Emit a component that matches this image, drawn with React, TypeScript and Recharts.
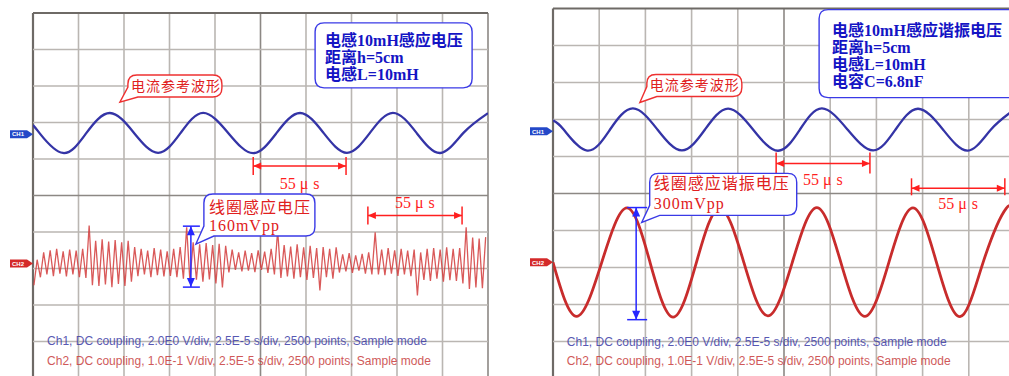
import React from "react";
import {
  LineChart,
  Line,
  XAxis,
  YAxis,
  ReferenceLine,
  ReferenceDot,
} from "recharts";

// scope screen: 10 x 10 divisions, 0 at the centre line
const X_TICKS = [0, 1, 2, 3, 4, 5, 6, 7, 8, 9, 10];
const Y_TICKS = [-5, -4, -3, -2, -1, 0, 1, 2, 3, 4, 5];

// channel ground markers (divisions) and scales
const CH1_POS = 1.68;
const CH2_POS = -1.86;
const CH1_V_PER_DIV = 2;
const CH2_MV_PER_DIV = 100;

// left capture, CH1 reference current (V)
const leftCh1Time = [0, 0.14, 0.66, 1.175, 1.69, 2.22, 2.75, 3.245, 3.74, 4.29, 4.84, 5.355, 5.87, 6.385, 6.9, 7.405, 7.91, 8.43, 8.95, 9.46, 10];
const leftCh1Volt = [0.5, 0.07, -1.03, 0.07, 1.16, 0.07, -1.02, 0.07, 1.17, 0.07, -1.04, 0.07, 1.16, 0.07, -1.02, 0.07, 1.17, 0.07, -1.03, 0.07, 1.15];

// left capture, CH2 coil voltage (mV), trough/peak of every cycle
const LEFT_CH2_T0 = 0.02;
const LEFT_CH2_STEP = 10 / 140;
const leftCh2mV = [
  -60, 10, -38, 30, -30, 36, -35, 40, -28, 33, -36, 38, -30, 35, -38, 40, -40, 104, -60, 62,
  -62, 66, -58, 60, -65, 64, -56, 58, -62, 62, -50, 45, -35, 40, -30, 35, -38, 42, -32, 38,
  -36, 33, -34, 40, -38, 45, -42, 99, -48, 58, -45, 52, -50, 56, -44, 50, -55, 54, -66, 48,
  -25, 38, -18, 30, -22, 35, -20, 28, -24, 36, -18, 32, -26, 40, -30, 90, -40, 50, -36, 46,
  -42, 52, -38, 44, -45, 48, -40, 42, -74, 45, -38, 40, -42, 44, -25, 25, -22, 28, -26, 22,
  -20, 26, -28, 30, -30, 85, -30, 38, -32, 42, -28, 36, -34, 40, -30, 35, -35, 38, -88, 30,
  -45, 40, -48, 42, -42, 38, -50, 44, -46, 40, -48, 42, -55, 99, -70, 71, -66, 68, -68, 72,
];

// right capture, CH1 reference current (V)
const rightCh1Time = [0, 0.23, 0.74, 1.235, 1.73, 2.26, 2.79, 3.29, 3.79, 4.33, 4.87, 5.345, 5.82, 6.375, 6.93, 7.415, 7.9, 8.44, 8.98, 9.48, 10];
const rightCh1Volt = [0.59, 0.1, -1.04, 0.1, 1.24, 0.1, -1.03, 0.1, 1.23, 0.1, -1.05, 0.1, 1.24, 0.1, -1.03, 0.1, 1.22, 0.1, -1.04, 0.1, 1.2];

// right capture, CH2 resonant coil voltage (mV)
const rightCh2Time = [0, 0.51, 1.055, 1.6, 2.1, 2.6, 3.105, 3.61, 4.13, 4.65, 5.18, 5.71, 6.23, 6.75, 7.27, 7.79, 8.3, 8.81, 9.31, 9.81, 10];
const rightCh2mV = [0, -146, 0, 147, 0, -148, 0, 146, 0, -145, 0, 148, 0, -146, 0, 147, 0, -147, 0, 146, 125];

const toRows = (t: number[], v: number[], pos: number, perDiv: number) =>
  t.map((x, i) => ({ t: x, y: pos + v[i] / perDiv }));

const leftCh1 = toRows(leftCh1Time, leftCh1Volt, CH1_POS, CH1_V_PER_DIV);
const leftCh2 = toRows(
  leftCh2mV.map((_, i) => LEFT_CH2_T0 + i * LEFT_CH2_STEP),
  leftCh2mV,
  CH2_POS,
  CH2_MV_PER_DIV
);
const rightCh1 = toRows(rightCh1Time, rightCh1Volt, CH1_POS, CH1_V_PER_DIV);
const rightCh2 = toRows(rightCh2Time, rightCh2mV, CH2_POS, CH2_MV_PER_DIV);

const SERIF = "'Liberation Serif', 'Noto Sans CJK SC', serif";
const SANS = "'Liberation Sans', Arial, sans-serif";
const BLUE = "#3434a6";
const RED = "#d23c3c";
const MARK_RED = "#ff1f1f";
const MARK_BLUE = "#2626ff";

type TextLine = { text: string; dx: number; dy: number; size: number; color: string; bold?: boolean };

const Bubble = (p: any) => {
  const { cx = 0, cy = 0, dx, dy, w, h, stroke, tail, lines } = p;
  const x = cx + dx;
  const y = cy + dy;
  const r = 9;
  const d = tail
    ? `M${x + r},${y} H${x + w - r} Q${x + w},${y} ${x + w},${y + r} V${y + h - r} Q${x + w},${y + h} ${x + w - r},${y + h} H${x + 10} L${cx},${cy} L${x},${y + h - 10} V${y + r} Q${x},${y} ${x + r},${y} Z`
    : `M${x + r},${y} H${x + w - r} Q${x + w},${y} ${x + w},${y + r} V${y + h - r} Q${x + w},${y + h} ${x + w - r},${y + h} H${x + r} Q${x},${y + h} ${x},${y + h - r} V${y + r} Q${x},${y} ${x + r},${y} Z`;
  return (
    <g>
      <path d={d} fill="#fff" stroke={stroke} strokeWidth={1.4} />
      {(lines as TextLine[]).map((l, i) => (
        <text
          key={i}
          x={x + l.dx}
          y={y + l.dy}
          fill={l.color}
          fontSize={l.size}
          fontWeight={l.bold ? 700 : 400}
          fontFamily={SERIF}
          letterSpacing={l.bold ? 0 : 1}
        >
          {l.text}
        </text>
      ))}
    </g>
  );
};

const HSpan = (p: any) => {
  const { x1, x2, y1, up, down, labelDy } = p;
  const a = 8;
  const hw = 3.5;
  return (
    <g stroke={MARK_RED} strokeWidth={1.5}>
      <line x1={x1} x2={x2} y1={y1} y2={y1} />
      <line x1={x1} x2={x1} y1={y1 - up} y2={y1 + down} />
      <line x1={x2} x2={x2} y1={y1 - up} y2={y1 + down} />
      <polygon points={`${x1},${y1} ${x1 + a},${y1 - hw} ${x1 + a},${y1 + hw}`} fill={MARK_RED} stroke="none" />
      <polygon points={`${x2},${y1} ${x2 - a},${y1 - hw} ${x2 - a},${y1 + hw}`} fill={MARK_RED} stroke="none" />
      <text
        x={(x1 + x2) / 2 - 20}
        y={y1 + labelDy}
        fill={MARK_RED}
        stroke="none"
        fontSize={16}
        fontFamily={SERIF}
      >
        55<tspan dx={4}>μ</tspan>
        <tspan dx={5}>s</tspan>
      </text>
    </g>
  );
};

const VSpan = (p: any) => {
  const { x1, y1, y2, capL, capR } = p;
  const top = Math.min(y1, y2);
  const bot = Math.max(y1, y2);
  const a = 9;
  const hw = 4;
  return (
    <g stroke={MARK_BLUE} strokeWidth={1.5}>
      <line x1={x1} x2={x1} y1={top} y2={bot} />
      <line x1={x1 - capL} x2={x1 + capR} y1={top} y2={top} />
      <line x1={x1 - capL} x2={x1 + capR} y1={bot} y2={bot} />
      <polygon points={`${x1},${top} ${x1 - hw},${top + a} ${x1 + hw},${top + a}`} fill={MARK_BLUE} stroke="none" />
      <polygon points={`${x1},${bot} ${x1 - hw},${bot - a} ${x1 + hw},${bot - a}`} fill={MARK_BLUE} stroke="none" />
    </g>
  );
};

const ChTag = (p: any) => {
  const { cx = 0, cy = 0, label, color } = p;
  return (
    <g>
      <path
        d={`M${cx - 23},${cy - 4} H${cx - 6} L${cx},${cy} L${cx - 6},${cy + 4} H${cx - 23} Z`}
        fill={color}
      />
      <text x={cx - 15} y={cy + 2.2} textAnchor="middle" fill="#fff" fontSize={6} fontWeight={700} fontFamily={SANS}>
        {label}
      </text>
    </g>
  );
};

const Caption = (p: any) => {
  const { cx = 0, cy = 0, text, color } = p;
  return (
    <text x={cx} y={cy + 4} fill={color} fontSize={12} fontFamily={SANS} opacity={0.85}>
      {text}
    </text>
  );
};

const CH1_CAPTION = "Ch1, DC coupling, 2.0E0 V/div, 2.5E-5 s/div, 2500 points, Sample mode";
const CH2_CAPTION = "Ch2, DC coupling, 1.0E-1 V/div, 2.5E-5 s/div, 2500 points, Sample mode";

const redCallout = (text: string) => [
  { text, dx: 3, dy: 16, size: 14, color: "#e02020" },
];

const GRID = "#bab6b2";
const CENTRE = "#8c8884";
const EDGE = "#6e6a66";

const frame = (key: string) => [
  <XAxis key={key + "x"} type="number" dataKey="t" domain={[0, 10]} ticks={X_TICKS} height={0} tick={false} tickLine={false} axisLine={false} allowDataOverflow />,
  <YAxis key={key + "y"} type="number" domain={[-5, 5]} ticks={Y_TICKS} width={0} tick={false} tickLine={false} axisLine={false} allowDataOverflow />,
  ...X_TICKS.map((v) => (
    <ReferenceLine
      key={key + "gx" + v}
      x={v}
      stroke={v === 0 ? EDGE : v === 5 || v === 10 ? CENTRE : GRID}
      strokeWidth={v === 0 ? 2.2 : 1.6}
    />
  )),
  ...Y_TICKS.map((v) => (
    <ReferenceLine
      key={key + "gy" + v}
      y={v}
      stroke={v === 5 ? EDGE : v === 0 ? CENTRE : GRID}
      strokeWidth={v === 5 ? 2.2 : 1.6}
    />
  )),
];

const LeftScope = () => (
  <LineChart width={500} height={380} margin={{ top: 13, left: 33, right: 12, bottom: 2 }}>
    {frame("l")}
    <Line data={leftCh2} dataKey="y" type="linear" stroke={RED} strokeWidth={1.3} strokeOpacity={0.85} dot={false} activeDot={false} isAnimationActive={false} />
    <Line data={leftCh1} dataKey="y" type="natural" stroke={BLUE} strokeWidth={2.3} dot={false} activeDot={false} isAnimationActive={false} />
    <ReferenceDot x={0} y={CH1_POS} r={0} shape={(p: any) => <ChTag {...p} label="CH1" color="#2448c8" />} />
    <ReferenceDot x={0} y={CH2_POS} r={0} shape={(p: any) => <ChTag {...p} label="CH2" color="#d42a2a" />} />
    <ReferenceDot
      x={6.2}
      y={4.73}
      r={0}
      shape={(p: any) => (
        <Bubble
          {...p}
          dx={0}
          dy={0}
          w={157}
          h={65}
          stroke="#3a3ae6"
          lines={[
            { text: "电感10mH感应电压", dx: 10, dy: 23, size: 16, color: "#1414c4", bold: true },
            { text: "距离h=5cm", dx: 10, dy: 40, size: 16, color: "#1414c4", bold: true },
            { text: "电感L=10mH", dx: 10, dy: 57, size: 16, color: "#1414c4", bold: true },
          ]}
        />
      )}
    />
    <ReferenceDot x={1.91} y={2.56} r={0} shape={(p: any) => <Bubble {...p} dx={8} dy={-27} w={94} h={22} stroke="#ee3030" tail lines={redCallout("电流参考波形")} />} />
    <ReferenceLine segment={[{ x: 4.84, y: 0.81 }, { x: 6.88, y: 0.81 }]} shape={(p: any) => <HSpan {...p} up={9} down={9} labelDy={23} />} />
    <ReferenceLine segment={[{ x: 7.36, y: -0.55 }, { x: 9.43, y: -0.55 }]} shape={(p: any) => <HSpan {...p} up={9} down={9} labelDy={-8} />} />
    <ReferenceLine segment={[{ x: 3.47, y: -0.84 }, { x: 3.47, y: -2.51 }]} shape={(p: any) => <VSpan {...p} capL={8} capR={9} />} />
    <ReferenceDot
      x={3.58}
      y={-1.33}
      r={0}
      shape={(p: any) => (
        <Bubble
          {...p}
          dx={8}
          dy={-50}
          w={111}
          h={42}
          stroke="#3a3ae6"
          tail
          lines={[
            { text: "线圈感应电压", dx: 5, dy: 19, size: 16, color: "#e02020" },
            { text: "160mVpp", dx: 5, dy: 37, size: 16, color: "#e02020" },
          ]}
        />
      )}
    />
    <ReferenceDot x={0.31} y={-3.99} r={0} shape={(p: any) => <Caption {...p} text={CH1_CAPTION} color="#3c3ca6" />} />
    <ReferenceDot x={0.31} y={-4.53} r={0} shape={(p: any) => <Caption {...p} text={CH2_CAPTION} color="#c83c3c" />} />
  </LineChart>
);

const RightScope = () => (
  <LineChart width={500} height={380} margin={{ top: 8.5, left: 33, right: 5, bottom: 1.5 }}>
    {frame("r")}
    <Line data={rightCh2} dataKey="y" type="natural" stroke="#c82c2c" strokeWidth={2.8} dot={false} activeDot={false} isAnimationActive={false} />
    <Line data={rightCh1} dataKey="y" type="natural" stroke={BLUE} strokeWidth={2.3} dot={false} activeDot={false} isAnimationActive={false} />
    <ReferenceDot x={0} y={CH1_POS} r={0} shape={(p: any) => <ChTag {...p} label="CH1" color="#2448c8" />} />
    <ReferenceDot x={0} y={CH2_POS} r={0} shape={(p: any) => <ChTag {...p} label="CH2" color="#d42a2a" />} />
    <ReferenceDot
      x={5.76}
      y={4.97}
      r={0}
      shape={(p: any) => (
        <Bubble
          {...p}
          dx={0}
          dy={0}
          w={200}
          h={88}
          stroke="#3a3ae6"
          lines={[
            { text: "电感10mH感应谐振电压", dx: 13, dy: 26, size: 16, color: "#1414c4", bold: true },
            { text: "距离h=5cm", dx: 13, dy: 43, size: 16, color: "#1414c4", bold: true },
            { text: "电感L=10mH", dx: 13, dy: 60, size: 16, color: "#1414c4", bold: true },
            { text: "电容C=6.8nF", dx: 13, dy: 77, size: 16, color: "#1414c4", bold: true },
          ]}
        />
      )}
    />
    <ReferenceDot x={1.88} y={2.46} r={0} shape={(p: any) => <Bubble {...p} dx={7} dy={-28} w={95} h={22} stroke="#ee3030" tail lines={redCallout("电流参考波形")} />} />
    <ReferenceLine segment={[{ x: 4.83, y: 0.81 }, { x: 6.86, y: 0.81 }]} shape={(p: any) => <HSpan {...p} up={11} down={10} labelDy={21} />} />
    <ReferenceLine segment={[{ x: 7.76, y: 0.14 }, { x: 9.78, y: 0.14 }]} shape={(p: any) => <HSpan {...p} up={10} down={7} labelDy={21} />} />
    <ReferenceLine segment={[{ x: 1.8, y: -0.38 }, { x: 1.8, y: -3.41 }]} shape={(p: any) => <VSpan {...p} capL={9} capR={11} />} />
    <ReferenceDot
      x={1.92}
      y={-0.78}
      r={0}
      shape={(p: any) => (
        <Bubble
          {...p}
          dx={8}
          dy={-49}
          w={147}
          h={42}
          stroke="#3a3ae6"
          tail
          lines={[
            { text: "线圈感应谐振电压", dx: 4, dy: 16, size: 16, color: "#e02020" },
            { text: "300mVpp", dx: 4, dy: 36, size: 16, color: "#e02020" },
          ]}
        />
      )}
    />
    <ReferenceDot x={0.3} y={-4.0} r={0} shape={(p: any) => <Caption {...p} text={CH1_CAPTION} color="#3c3ca6" />} />
    <ReferenceDot x={0.3} y={-4.54} r={0} shape={(p: any) => <Caption {...p} text={CH2_CAPTION} color="#c83c3c" />} />
  </LineChart>
);

export default function App() {
  return (
    <div style={{ position: "fixed", left: 0, top: 0, width: 1009, height: 376, overflow: "hidden", background: "#fff" }}>
      <div style={{ position: "absolute", left: 0, top: 0 }}>
        <LeftScope />
      </div>
      <div style={{ position: "absolute", left: 520, top: 0 }}>
        <RightScope />
      </div>
    </div>
  );
}
